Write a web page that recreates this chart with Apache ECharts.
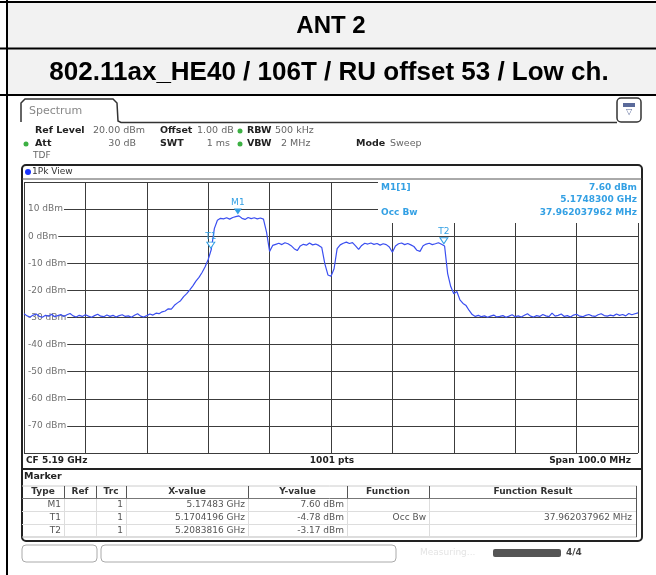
<!DOCTYPE html>
<html>
<head>
<meta charset="utf-8">
<script src="https://cdn.jsdelivr.net/npm/echarts@6/dist/echarts.min.js"></script>
<style>
  html, body { margin: 0; padding: 0; background: #fff; }
  #main { width: 656px; height: 575px; }
</style>
</head>
<body>
<div id="main"></div>
<script>
// sweep: 5.14 GHz .. 5.24 GHz, one reading every 0.5 MHz
var sweepStartMHz = 5140;
var sweepStepMHz = 0.5;
var levelDbm = [
  -28.6, -29.4, -29.8, -29.1, -28.7, -29.6, -29.9, -29.2, -29.5, -28.8,
  -29.7, -29.3, -28.9, -29.6, -29.0, -28.5, -29.4, -29.8, -29.2, -29.6,
  -29.0, -29.5, -29.9, -29.3, -28.8, -29.5, -29.7, -29.1, -29.6, -29.2,
  -29.8, -29.3, -29.0, -29.6, -29.4, -29.9, -29.2, -28.6, -29.5, -29.8,
  -29.3, -28.7, -29.1, -28.4, -28.6, -27.9, -27.6, -26.8, -26.9, -25.5,
  -24.6, -23.8, -22.3, -21.2, -19.8, -18.3, -16.6, -15.2, -13.4, -11.3,
  -8.6, -4.9, 2.8, 5.9, 6.6, 6.4, 6.8, 6.3, 6.9, 7.2,
  7.5, 6.6, 6.2, 6.9, 6.5, 6.8, 6.4, 6.7, 6.3, 1.5,
  -5.6, -3.4, -3.0, -2.6, -3.1, -2.4, -2.8, -3.5, -4.6, -5.3,
  -3.6, -3.0, -3.3, -2.5, -3.2, -2.9, -3.4, -4.2, -10.2, -14.3,
  -14.8, -12.0, -4.6, -3.2, -2.6, -2.2, -2.7, -2.4, -3.6, -4.9,
  -3.4, -2.6, -2.9, -2.5, -3.0, -2.7, -3.3, -2.8, -3.1, -4.0,
  -5.9, -3.6, -2.8, -2.5, -3.1, -2.7, -3.2, -3.8, -5.2, -5.6,
  -3.5, -2.9, -2.6, -3.1, -2.8, -2.4, -3.0, -3.6, -13.8, -18.6,
  -21.2, -20.4, -23.5, -24.8, -25.6, -27.4, -28.9, -29.6, -29.2, -29.7,
  -29.4, -29.9, -29.5, -29.1, -29.8, -29.6, -29.3, -29.9, -29.5, -29.0,
  -29.7, -29.4, -29.8, -29.2, -28.6, -29.5, -29.8, -29.3, -29.6, -28.9,
  -29.4, -29.7, -28.4, -29.5, -29.2, -28.7, -29.6, -29.3, -29.8, -29.1,
  -28.8, -29.5, -29.7, -29.2, -28.9, -29.4, -29.6, -29.0, -28.6, -29.3,
  -29.5, -29.1, -29.4, -28.7, -29.2, -28.9, -29.4, -28.5, -29.0, -28.6,
  -28.3
];

// markers
var markerNames = ['M1', 'T1', 'T2'];
var markerFreqMHz = [5174.83, 5170.4196, 5208.3816];
var markerLevel = [7.60, -4.78, -3.17];
var markerXText = ['5.17483 GHz', '5.1704196 GHz', '5.2083816 GHz'];
var markerYText = ['7.60 dBm', '-4.78 dBm', '-3.17 dBm'];
var markerFunc = ['', 'Occ Bw', ''];
var markerResult = ['', '37.962037962 MHz', ''];

var yTicks = { min: -80, max: 20, step: 10 };

var traceColor = '#3a4ef0';
var mkColor = '#33a0e4';
var gridColor = '#3c3c3c';

var data = levelDbm.map(function (v, i) { return [sweepStartMHz + i * sweepStepMHz, v]; });

var FONT = '"DejaVu Sans"';
function txt(x, y, s, o) {
  o = o || {};
  return {
    type: 'text', x: x, y: y, z: o.z || 20, silent: true,
    style: {
      text: s, fill: o.c || '#333',
      font: (o.w || 'normal') + ' ' + (o.s || 9) + 'px ' + (o.f || FONT),
      textAlign: o.a || 'left', textVerticalAlign: 'middle'
    }
  };
}
function ln(x1, y1, x2, y2, c, w, z) {
  return { type: 'line', z: z || 15, silent: true, shape: { x1: x1, y1: y1, x2: x2, y2: y2 }, style: { stroke: c, lineWidth: w || 1 } };
}
function box(x, y, w, h, o) {
  o = o || {};
  return { type: 'rect', z: o.z || 1, silent: true, shape: { x: x, y: y, width: w, height: h, r: o.r || 0 },
    style: { fill: o.fill || null, stroke: o.stroke || null, lineWidth: o.lw || 1 } };
}

var g = [];
// document table
g.push(box(7, 2, 649, 93, { fill: '#f2f2f2', z: 0 }));
g.push(ln(0, 2, 656, 2, '#000', 2));
g.push(ln(0, 48.5, 656, 48.5, '#000', 2));
g.push(ln(0, 95, 656, 95, '#000', 2));
g.push(ln(7, 0, 7, 575, '#000', 2));
g.push(txt(331, 26, 'ANT 2', { w: 'bold', s: 24, f: '"Liberation Sans"', a: 'center', c: '#000' }));
g.push(txt(329, 73, '802.11ax_HE40 / 106T / RU offset 53 / Low ch.', { w: 'bold', s: 26, f: '"Liberation Sans"', a: 'center', c: '#000' }));

// spectrum tab + icon
g.push({ type: 'polyline', z: 15, silent: true, shape: { points: [[21, 122], [21, 103], [25, 99], [113, 99], [117, 103], [118, 121], [121, 122.5], [617, 122.5]] },
  style: { stroke: '#333', lineWidth: 1.5, fill: null } });
g.push(box(617, 98, 24, 24, { stroke: '#333', lw: 1.5, r: 4, fill: '#fff', z: 15 }));
g.push(box(623, 103, 12, 4, { fill: '#5a6a9a', z: 16 }));
g.push(txt(629, 112, '▽', { s: 8, c: '#5a6a9a', a: 'center' }));
g.push(txt(29, 111, 'Spectrum', { s: 11, c: '#888' }));

// settings lines
g.push(txt(35, 131, 'Ref Level', { w: 'bold', s: 9.5, c: '#222' }));
g.push(txt(93, 131, '20.00 dBm', { s: 9.5, c: '#666' }));
g.push(txt(160, 131, 'Offset', { w: 'bold', s: 9.5, c: '#222' }));
g.push(txt(197, 131, '1.00 dB', { s: 9.5, c: '#666' }));
g.push({ type: 'circle', z: 15, shape: { cx: 240, cy: 131, r: 2.5 }, style: { fill: '#3cb043' } });
g.push(txt(247, 131, 'RBW', { w: 'bold', s: 9.5, c: '#222' }));
g.push(txt(275, 131, '500 kHz', { s: 9.5, c: '#666' }));
g.push({ type: 'circle', z: 15, shape: { cx: 26, cy: 144, r: 2.5 }, style: { fill: '#3cb043' } });
g.push(txt(35, 144, 'Att', { w: 'bold', s: 9.5, c: '#222' }));
g.push(txt(136, 144, '30 dB', { s: 9.5, c: '#666', a: 'right' }));
g.push(txt(160, 144, 'SWT', { w: 'bold', s: 9.5, c: '#222' }));
g.push(txt(230, 144, '1 ms', { s: 9.5, c: '#666', a: 'right' }));
g.push({ type: 'circle', z: 15, shape: { cx: 240, cy: 144, r: 2.5 }, style: { fill: '#3cb043' } });
g.push(txt(247, 144, 'VBW', { w: 'bold', s: 9.5, c: '#222' }));
g.push(txt(281, 144, '2 MHz', { s: 9.5, c: '#666' }));
g.push(txt(356, 144, 'Mode', { w: 'bold', s: 9.5, c: '#222' }));
g.push(txt(390, 144, 'Sweep', { s: 9.5, c: '#666' }));
g.push(txt(33, 156, 'TDF', { s: 9, c: '#666' }));

// diagram + marker frame
g.push(box(22, 165, 620, 376, { stroke: '#222', lw: 2, r: 4, z: 15 }));
g.push(ln(22, 179, 642, 179, '#555', 1));
g.push({ type: 'circle', z: 15, shape: { cx: 28, cy: 172, r: 3 }, style: { fill: '#1a35ff' } });
g.push(txt(32, 172, '1Pk View', { s: 9, c: '#333' }));
g.push(ln(22, 469, 642, 469, '#222', 2));
g.push(txt(26, 461, 'CF 5.19 GHz', { w: 'bold', s: 9, c: '#222' }));
g.push(txt(332, 461, '1001 pts', { w: 'bold', s: 9, c: '#222', a: 'center' }));
g.push(txt(631, 461, 'Span 100.0 MHz', { w: 'bold', s: 9, c: '#222', a: 'right' }));

// marker readout box
g.push(box(378, 181, 262, 42, { fill: '#fff', z: 10 }));
g.push(txt(381, 188, 'M1[1]', { w: 'bold', s: 9, c: mkColor }));
g.push(txt(637, 188, markerYText[0], { w: 'bold', s: 9, c: mkColor, a: 'right' }));
g.push(txt(637, 200, '5.1748300 GHz', { w: 'bold', s: 9, c: mkColor, a: 'right' }));
g.push(txt(381, 213, 'Occ Bw', { w: 'bold', s: 9, c: mkColor }));
g.push(txt(637, 213, markerResult[1], { w: 'bold', s: 9, c: mkColor, a: 'right' }));

// marker table
g.push(txt(24, 477, 'Marker', { w: 'bold', s: 9.5, c: '#222' }));
var cols = [22, 64, 96, 126, 248, 347, 429, 637];
var heads = ['Type', 'Ref', 'Trc', 'X-value', 'Y-value', 'Function', 'Function Result'];
var rowY = [505, 518, 530.5];
g.push(ln(22, 486, 637, 486, '#ccc', 1));
g.push(ln(22, 498.5, 637, 498.5, '#777', 1));
g.push(ln(22, 511.5, 637, 511.5, '#ddd', 1));
g.push(ln(22, 524.5, 637, 524.5, '#ddd', 1));
g.push(ln(22, 537, 637, 537, '#bbb', 1));
for (var c = 0; c < heads.length; c++) {
  g.push(txt((cols[c] + cols[c + 1]) / 2, 492, heads[c], { w: 'bold', s: 9, c: '#333', a: 'center' }));
  if (c > 0) {
    g.push(ln(cols[c] + 0.5, 486, cols[c] + 0.5, 498, '#555', 1));
    g.push(ln(cols[c] + 0.5, 499, cols[c] + 0.5, 537, '#ddd', 1));
  }
}
g.push(ln(636.5, 486, 636.5, 537, '#555', 1));
for (var r = 0; r < markerNames.length; r++) {
  var y = rowY[r];
  g.push(txt(61, y, markerNames[r], { s: 9, c: '#555', a: 'right' }));
  g.push(txt(123, y, '1', { s: 9, c: '#555', a: 'right' }));
  g.push(txt(245, y, markerXText[r], { s: 9, c: '#555', a: 'right' }));
  g.push(txt(344, y, markerYText[r], { s: 9, c: '#555', a: 'right' }));
  g.push(txt(426, y, markerFunc[r], { s: 9, c: '#555', a: 'right' }));
  g.push(txt(632, y, markerResult[r], { s: 9, c: '#555', a: 'right' }));
}

// status bar
g.push(box(22, 545, 75, 17, { stroke: '#aaa', r: 4, z: 15 }));
g.push(box(101, 545, 295, 17, { stroke: '#aaa', r: 4, z: 15 }));
g.push(txt(420, 553, 'Measuring...', { s: 9, c: '#e4e4e4' }));
g.push(box(493, 549, 68, 8, { fill: '#555', r: 2, z: 15 }));
g.push(txt(566, 553, '4/4', { w: 'bold', s: 9, c: '#444' }));

var chartDom = document.getElementById('main');
var myChart = echarts.init(chartDom);
var option = {
  animation: false,
  grid: { left: 24, right: 18, top: 182, bottom: 122 },
  xAxis: {
    type: 'value', min: 5140, max: 5240, interval: 10,
    axisLabel: { show: false }, axisTick: { show: false }, axisLine: { show: false },
    splitLine: { show: true, lineStyle: { color: gridColor, width: 1 } }
  },
  yAxis: {
    type: 'value', min: yTicks.min, max: yTicks.max, interval: yTicks.step,
    axisLine: { show: false }, axisTick: { show: false },
    splitLine: { show: true, lineStyle: { color: gridColor, width: 1 } },
    axisLabel: {
      inside: true, margin: 1, formatter: '{value} dBm',
      color: '#707070', fontSize: 9, fontFamily: 'DejaVu Sans',
      backgroundColor: '#fff', padding: [0, 1, 0, 3],
      showMinLabel: false, showMaxLabel: false
    }
  },
  series: [{
    type: 'line', data: data, showSymbol: false, z: 3,
    lineStyle: { color: traceColor, width: 1.2 },
    markPoint: {
      symbol: 'triangle', symbolRotate: 180, symbolSize: [8, 6], symbolOffset: [0, -4],
      label: { show: true, position: 'top', distance: 1, formatter: '{b}', color: mkColor, fontSize: 9, fontFamily: 'DejaVu Sans' },
      data: markerNames.map(function (n, i) {
        return {
          name: n, coord: [markerFreqMHz[i], markerLevel[i]],
          itemStyle: i === 0 ? { color: mkColor } : { color: '#fff', borderColor: mkColor, borderWidth: 1 }
        };
      })
    }
  }],
  graphic: { elements: g }
};
option && myChart.setOption(option);
</script>
</body>
</html>
